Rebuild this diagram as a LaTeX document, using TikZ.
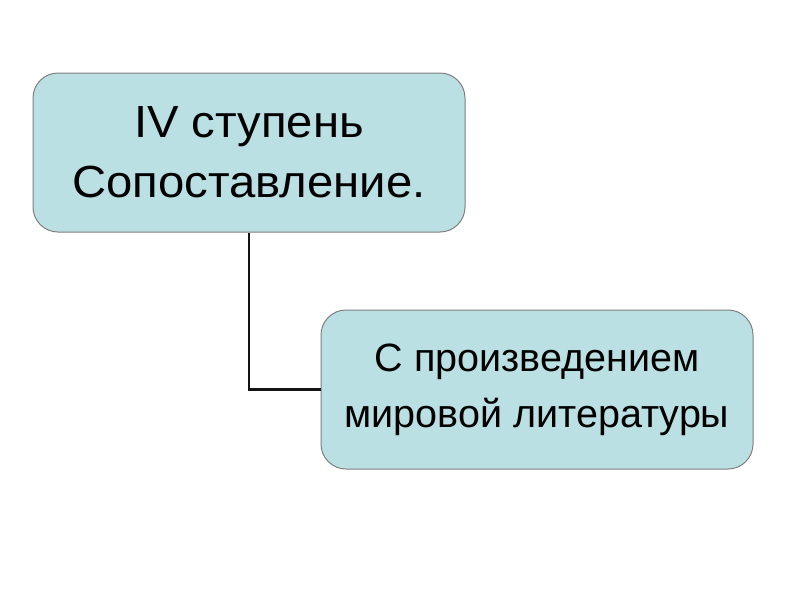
\documentclass[tikz,border=0pt]{standalone}
\usepackage{fontspec}
\setmainfont{Liberation Sans}
\newfontfamily\widesans[FakeStretch=1.05]{Liberation Sans}
\definecolor{boxfill}{HTML}{BBE0E3}
\definecolor{boxline}{HTML}{7F7F7F}
\definecolor{conn}{HTML}{141414}
\begin{document}
\begin{tikzpicture}[x=1pt,y=-1pt,
  box/.style={draw=boxline, line width=1pt, fill=boxfill, rounded corners=25pt,
    minimum width=432pt, minimum height=159pt, align=center, inner sep=0pt},
  bigtext/.style={font=\widesans\fontsize{45}{60}\selectfont},
  smalltext/.style={font=\fontsize{39.5}{56}\selectfont},
  link/.style={draw=conn, line width=2.2pt}]
\useasboundingbox (0,0) rectangle (800,600);
\node[box, bigtext] (b1) at (249,152.5) {IV ступень\\Сопоставление.};
\node[box, smalltext] (b2) at (537,389.5) {С произведением\\мировой литературы};
\draw[link] (b1.south) |- (b2.west);
\end{tikzpicture}
\end{document}
